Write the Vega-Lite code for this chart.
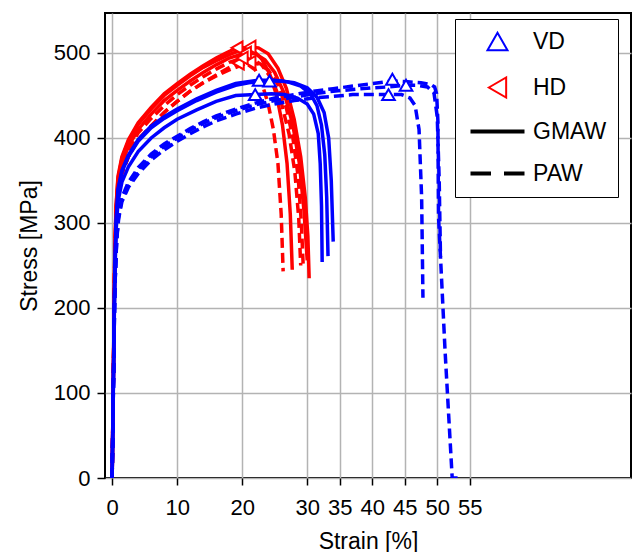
{
  "$schema": "https://vega.github.io/schema/vega-lite/v6.json",
  "width": 526,
  "height": 465,
  "autosize": {"type": "none"},
  "padding": {"left": 105, "top": 13, "right": 2, "bottom": 74},
  "datasets": {
    "curves": [
      {"c":"B1","d":"VD","p":"GMAW","x":0,"y":0},{"c":"B1","d":"VD","p":"GMAW","x":0.2,"y":120},{"c":"B1","d":"VD","p":"GMAW","x":0.4,"y":240},{"c":"B1","d":"VD","p":"GMAW","x":0.6,"y":300},{"c":"B1","d":"VD","p":"GMAW","x":0.9,"y":340},{"c":"B1","d":"VD","p":"GMAW","x":1.5,"y":362},{"c":"B1","d":"VD","p":"GMAW","x":2.5,"y":380},{"c":"B1","d":"VD","p":"GMAW","x":4,"y":398},{"c":"B1","d":"VD","p":"GMAW","x":6,"y":414},{"c":"B1","d":"VD","p":"GMAW","x":8,"y":425},{"c":"B1","d":"VD","p":"GMAW","x":10,"y":434},{"c":"B1","d":"VD","p":"GMAW","x":13,"y":446},{"c":"B1","d":"VD","p":"GMAW","x":16,"y":456},{"c":"B1","d":"VD","p":"GMAW","x":19,"y":464},{"c":"B1","d":"VD","p":"GMAW","x":22.6,"y":468},{"c":"B1","d":"VD","p":"GMAW","x":25,"y":468},{"c":"B1","d":"VD","p":"GMAW","x":27,"y":466},{"c":"B1","d":"VD","p":"GMAW","x":29,"y":461},{"c":"B1","d":"VD","p":"GMAW","x":30.5,"y":452},{"c":"B1","d":"VD","p":"GMAW","x":31.5,"y":438},{"c":"B1","d":"VD","p":"GMAW","x":32.2,"y":415},{"c":"B1","d":"VD","p":"GMAW","x":32.7,"y":380},{"c":"B1","d":"VD","p":"GMAW","x":33.0,"y":330},{"c":"B1","d":"VD","p":"GMAW","x":33.2,"y":261},
      {"c":"B2","d":"VD","p":"GMAW","x":0,"y":0},{"c":"B2","d":"VD","p":"GMAW","x":0.2,"y":120},{"c":"B2","d":"VD","p":"GMAW","x":0.4,"y":240},{"c":"B2","d":"VD","p":"GMAW","x":0.6,"y":300},{"c":"B2","d":"VD","p":"GMAW","x":0.9,"y":338},{"c":"B2","d":"VD","p":"GMAW","x":1.5,"y":360},{"c":"B2","d":"VD","p":"GMAW","x":2.5,"y":378},{"c":"B2","d":"VD","p":"GMAW","x":4,"y":396},{"c":"B2","d":"VD","p":"GMAW","x":6,"y":412},{"c":"B2","d":"VD","p":"GMAW","x":8,"y":423},{"c":"B2","d":"VD","p":"GMAW","x":10,"y":432},{"c":"B2","d":"VD","p":"GMAW","x":13,"y":444},{"c":"B2","d":"VD","p":"GMAW","x":16,"y":454},{"c":"B2","d":"VD","p":"GMAW","x":19,"y":462},{"c":"B2","d":"VD","p":"GMAW","x":21,"y":465},{"c":"B2","d":"VD","p":"GMAW","x":24.2,"y":467},{"c":"B2","d":"VD","p":"GMAW","x":26,"y":467},{"c":"B2","d":"VD","p":"GMAW","x":28,"y":465},{"c":"B2","d":"VD","p":"GMAW","x":30,"y":459},{"c":"B2","d":"VD","p":"GMAW","x":31.5,"y":448},{"c":"B2","d":"VD","p":"GMAW","x":32.6,"y":430},{"c":"B2","d":"VD","p":"GMAW","x":33.3,"y":400},{"c":"B2","d":"VD","p":"GMAW","x":33.7,"y":350},{"c":"B2","d":"VD","p":"GMAW","x":34.0,"y":278},
      {"c":"B3","d":"VD","p":"GMAW","x":0,"y":0},{"c":"B3","d":"VD","p":"GMAW","x":0.2,"y":115},{"c":"B3","d":"VD","p":"GMAW","x":0.4,"y":230},{"c":"B3","d":"VD","p":"GMAW","x":0.6,"y":290},{"c":"B3","d":"VD","p":"GMAW","x":0.9,"y":325},{"c":"B3","d":"VD","p":"GMAW","x":1.5,"y":348},{"c":"B3","d":"VD","p":"GMAW","x":2.5,"y":366},{"c":"B3","d":"VD","p":"GMAW","x":4,"y":384},{"c":"B3","d":"VD","p":"GMAW","x":6,"y":400},{"c":"B3","d":"VD","p":"GMAW","x":8,"y":412},{"c":"B3","d":"VD","p":"GMAW","x":10,"y":422},{"c":"B3","d":"VD","p":"GMAW","x":13,"y":433},{"c":"B3","d":"VD","p":"GMAW","x":16,"y":443},{"c":"B3","d":"VD","p":"GMAW","x":19,"y":450},{"c":"B3","d":"VD","p":"GMAW","x":22,"y":451},{"c":"B3","d":"VD","p":"GMAW","x":24.5,"y":452},{"c":"B3","d":"VD","p":"GMAW","x":26.5,"y":451},{"c":"B3","d":"VD","p":"GMAW","x":28.5,"y":447},{"c":"B3","d":"VD","p":"GMAW","x":30,"y":440},{"c":"B3","d":"VD","p":"GMAW","x":31,"y":428},{"c":"B3","d":"VD","p":"GMAW","x":31.7,"y":405},{"c":"B3","d":"VD","p":"GMAW","x":32.0,"y":370},{"c":"B3","d":"VD","p":"GMAW","x":32.2,"y":320},{"c":"B3","d":"VD","p":"GMAW","x":32.3,"y":254},
      {"c":"D1","d":"VD","p":"PAW","x":0,"y":0},{"c":"D1","d":"VD","p":"PAW","x":0.2,"y":110},{"c":"D1","d":"VD","p":"PAW","x":0.4,"y":220},{"c":"D1","d":"VD","p":"PAW","x":0.7,"y":280},{"c":"D1","d":"VD","p":"PAW","x":1,"y":305},{"c":"D1","d":"VD","p":"PAW","x":1.5,"y":325},{"c":"D1","d":"VD","p":"PAW","x":2.5,"y":342},{"c":"D1","d":"VD","p":"PAW","x":4,"y":358},{"c":"D1","d":"VD","p":"PAW","x":6,"y":374},{"c":"D1","d":"VD","p":"PAW","x":8,"y":386},{"c":"D1","d":"VD","p":"PAW","x":10,"y":396},{"c":"D1","d":"VD","p":"PAW","x":12,"y":405},{"c":"D1","d":"VD","p":"PAW","x":14,"y":413},{"c":"D1","d":"VD","p":"PAW","x":16,"y":420},{"c":"D1","d":"VD","p":"PAW","x":19,"y":428},{"c":"D1","d":"VD","p":"PAW","x":22,"y":435},{"c":"D1","d":"VD","p":"PAW","x":25,"y":440},{"c":"D1","d":"VD","p":"PAW","x":28,"y":444},{"c":"D1","d":"VD","p":"PAW","x":31,"y":447},{"c":"D1","d":"VD","p":"PAW","x":34,"y":449},{"c":"D1","d":"VD","p":"PAW","x":37,"y":451},{"c":"D1","d":"VD","p":"PAW","x":40,"y":451},{"c":"D1","d":"VD","p":"PAW","x":42.5,"y":451},{"c":"D1","d":"VD","p":"PAW","x":44.5,"y":451},{"c":"D1","d":"VD","p":"PAW","x":45.8,"y":447},{"c":"D1","d":"VD","p":"PAW","x":46.6,"y":438},{"c":"D1","d":"VD","p":"PAW","x":47.2,"y":410},{"c":"D1","d":"VD","p":"PAW","x":47.6,"y":330},{"c":"D1","d":"VD","p":"PAW","x":47.8,"y":212},
      {"c":"D2","d":"VD","p":"PAW","x":0,"y":0},{"c":"D2","d":"VD","p":"PAW","x":0.2,"y":110},{"c":"D2","d":"VD","p":"PAW","x":0.4,"y":220},{"c":"D2","d":"VD","p":"PAW","x":0.7,"y":282},{"c":"D2","d":"VD","p":"PAW","x":1,"y":308},{"c":"D2","d":"VD","p":"PAW","x":1.5,"y":328},{"c":"D2","d":"VD","p":"PAW","x":2.5,"y":345},{"c":"D2","d":"VD","p":"PAW","x":4,"y":362},{"c":"D2","d":"VD","p":"PAW","x":6,"y":378},{"c":"D2","d":"VD","p":"PAW","x":8,"y":390},{"c":"D2","d":"VD","p":"PAW","x":10,"y":400},{"c":"D2","d":"VD","p":"PAW","x":12,"y":409},{"c":"D2","d":"VD","p":"PAW","x":14,"y":417},{"c":"D2","d":"VD","p":"PAW","x":16,"y":424},{"c":"D2","d":"VD","p":"PAW","x":19,"y":432},{"c":"D2","d":"VD","p":"PAW","x":22,"y":439},{"c":"D2","d":"VD","p":"PAW","x":25,"y":444},{"c":"D2","d":"VD","p":"PAW","x":28,"y":448},{"c":"D2","d":"VD","p":"PAW","x":31,"y":452},{"c":"D2","d":"VD","p":"PAW","x":34,"y":455},{"c":"D2","d":"VD","p":"PAW","x":37,"y":457},{"c":"D2","d":"VD","p":"PAW","x":40,"y":459},{"c":"D2","d":"VD","p":"PAW","x":42.5,"y":460},{"c":"D2","d":"VD","p":"PAW","x":45.2,"y":462},{"c":"D2","d":"VD","p":"PAW","x":47,"y":462},{"c":"D2","d":"VD","p":"PAW","x":48.5,"y":460},{"c":"D2","d":"VD","p":"PAW","x":49.5,"y":453},{"c":"D2","d":"VD","p":"PAW","x":50.0,"y":425},{"c":"D2","d":"VD","p":"PAW","x":50.3,"y":350},{"c":"D2","d":"VD","p":"PAW","x":50.5,"y":260},
      {"c":"D3","d":"VD","p":"PAW","x":0,"y":0},{"c":"D3","d":"VD","p":"PAW","x":0.2,"y":110},{"c":"D3","d":"VD","p":"PAW","x":0.4,"y":220},{"c":"D3","d":"VD","p":"PAW","x":0.7,"y":282},{"c":"D3","d":"VD","p":"PAW","x":1,"y":310},{"c":"D3","d":"VD","p":"PAW","x":1.5,"y":330},{"c":"D3","d":"VD","p":"PAW","x":2.5,"y":348},{"c":"D3","d":"VD","p":"PAW","x":4,"y":365},{"c":"D3","d":"VD","p":"PAW","x":6,"y":381},{"c":"D3","d":"VD","p":"PAW","x":8,"y":393},{"c":"D3","d":"VD","p":"PAW","x":10,"y":402},{"c":"D3","d":"VD","p":"PAW","x":12,"y":411},{"c":"D3","d":"VD","p":"PAW","x":14,"y":419},{"c":"D3","d":"VD","p":"PAW","x":16,"y":426},{"c":"D3","d":"VD","p":"PAW","x":19,"y":434},{"c":"D3","d":"VD","p":"PAW","x":22,"y":441},{"c":"D3","d":"VD","p":"PAW","x":25,"y":447},{"c":"D3","d":"VD","p":"PAW","x":28,"y":451},{"c":"D3","d":"VD","p":"PAW","x":31,"y":455},{"c":"D3","d":"VD","p":"PAW","x":34,"y":458},{"c":"D3","d":"VD","p":"PAW","x":37,"y":461},{"c":"D3","d":"VD","p":"PAW","x":40,"y":464},{"c":"D3","d":"VD","p":"PAW","x":43.1,"y":467},{"c":"D3","d":"VD","p":"PAW","x":45.5,"y":466},{"c":"D3","d":"VD","p":"PAW","x":47.5,"y":465},{"c":"D3","d":"VD","p":"PAW","x":49,"y":463},{"c":"D3","d":"VD","p":"PAW","x":49.6,"y":460},{"c":"D3","d":"VD","p":"PAW","x":49.9,"y":452},{"c":"D3","d":"VD","p":"PAW","x":50.1,"y":420},{"c":"D3","d":"VD","p":"PAW","x":50.2,"y":307},{"c":"D3","d":"VD","p":"PAW","x":51.2,"y":150},{"c":"D3","d":"VD","p":"PAW","x":52.3,"y":0},{"c":"D3","d":"VD","p":"PAW","x":53.6,"y":0},
      {"c":"R1","d":"HD","p":"GMAW","x":0,"y":0},{"c":"R1","d":"HD","p":"GMAW","x":0.2,"y":130},{"c":"R1","d":"HD","p":"GMAW","x":0.4,"y":260},{"c":"R1","d":"HD","p":"GMAW","x":0.6,"y":320},{"c":"R1","d":"HD","p":"GMAW","x":0.9,"y":355},{"c":"R1","d":"HD","p":"GMAW","x":1.5,"y":378},{"c":"R1","d":"HD","p":"GMAW","x":2.5,"y":398},{"c":"R1","d":"HD","p":"GMAW","x":4,"y":418},{"c":"R1","d":"HD","p":"GMAW","x":6,"y":436},{"c":"R1","d":"HD","p":"GMAW","x":8,"y":452},{"c":"R1","d":"HD","p":"GMAW","x":10,"y":464},{"c":"R1","d":"HD","p":"GMAW","x":12,"y":475},{"c":"R1","d":"HD","p":"GMAW","x":14,"y":485},{"c":"R1","d":"HD","p":"GMAW","x":16,"y":494},{"c":"R1","d":"HD","p":"GMAW","x":17.5,"y":500},{"c":"R1","d":"HD","p":"GMAW","x":19.2,"y":506},{"c":"R1","d":"HD","p":"GMAW","x":20.5,"y":506},{"c":"R1","d":"HD","p":"GMAW","x":21.8,"y":502},{"c":"R1","d":"HD","p":"GMAW","x":23,"y":493},{"c":"R1","d":"HD","p":"GMAW","x":24.2,"y":476},{"c":"R1","d":"HD","p":"GMAW","x":25.3,"y":450},{"c":"R1","d":"HD","p":"GMAW","x":26.2,"y":415},{"c":"R1","d":"HD","p":"GMAW","x":26.9,"y":370},{"c":"R1","d":"HD","p":"GMAW","x":27.4,"y":310},{"c":"R1","d":"HD","p":"GMAW","x":27.7,"y":245},
      {"c":"R2","d":"HD","p":"GMAW","x":0,"y":0},{"c":"R2","d":"HD","p":"GMAW","x":0.2,"y":130},{"c":"R2","d":"HD","p":"GMAW","x":0.4,"y":260},{"c":"R2","d":"HD","p":"GMAW","x":0.6,"y":318},{"c":"R2","d":"HD","p":"GMAW","x":0.9,"y":352},{"c":"R2","d":"HD","p":"GMAW","x":1.5,"y":376},{"c":"R2","d":"HD","p":"GMAW","x":2.5,"y":396},{"c":"R2","d":"HD","p":"GMAW","x":4,"y":416},{"c":"R2","d":"HD","p":"GMAW","x":6,"y":434},{"c":"R2","d":"HD","p":"GMAW","x":8,"y":450},{"c":"R2","d":"HD","p":"GMAW","x":10,"y":462},{"c":"R2","d":"HD","p":"GMAW","x":12,"y":473},{"c":"R2","d":"HD","p":"GMAW","x":14,"y":483},{"c":"R2","d":"HD","p":"GMAW","x":16,"y":491},{"c":"R2","d":"HD","p":"GMAW","x":18,"y":498},{"c":"R2","d":"HD","p":"GMAW","x":19.7,"y":503},{"c":"R2","d":"HD","p":"GMAW","x":21.2,"y":507},{"c":"R2","d":"HD","p":"GMAW","x":22.5,"y":506},{"c":"R2","d":"HD","p":"GMAW","x":24,"y":499},{"c":"R2","d":"HD","p":"GMAW","x":25.5,"y":482},{"c":"R2","d":"HD","p":"GMAW","x":26.8,"y":458},{"c":"R2","d":"HD","p":"GMAW","x":28,"y":422},{"c":"R2","d":"HD","p":"GMAW","x":29,"y":378},{"c":"R2","d":"HD","p":"GMAW","x":29.7,"y":330},{"c":"R2","d":"HD","p":"GMAW","x":30.1,"y":285},{"c":"R2","d":"HD","p":"GMAW","x":30.3,"y":235},
      {"c":"R3","d":"HD","p":"GMAW","x":0,"y":0},{"c":"R3","d":"HD","p":"GMAW","x":0.2,"y":125},{"c":"R3","d":"HD","p":"GMAW","x":0.4,"y":250},{"c":"R3","d":"HD","p":"GMAW","x":0.6,"y":312},{"c":"R3","d":"HD","p":"GMAW","x":0.9,"y":346},{"c":"R3","d":"HD","p":"GMAW","x":1.5,"y":370},{"c":"R3","d":"HD","p":"GMAW","x":2.5,"y":390},{"c":"R3","d":"HD","p":"GMAW","x":4,"y":410},{"c":"R3","d":"HD","p":"GMAW","x":6,"y":428},{"c":"R3","d":"HD","p":"GMAW","x":8,"y":444},{"c":"R3","d":"HD","p":"GMAW","x":10,"y":456},{"c":"R3","d":"HD","p":"GMAW","x":12,"y":467},{"c":"R3","d":"HD","p":"GMAW","x":14,"y":477},{"c":"R3","d":"HD","p":"GMAW","x":16,"y":486},{"c":"R3","d":"HD","p":"GMAW","x":18,"y":494},{"c":"R3","d":"HD","p":"GMAW","x":20.5,"y":500},{"c":"R3","d":"HD","p":"GMAW","x":22,"y":499},{"c":"R3","d":"HD","p":"GMAW","x":23.5,"y":492},{"c":"R3","d":"HD","p":"GMAW","x":25,"y":477},{"c":"R3","d":"HD","p":"GMAW","x":26.5,"y":452},{"c":"R3","d":"HD","p":"GMAW","x":27.8,"y":415},{"c":"R3","d":"HD","p":"GMAW","x":28.8,"y":370},{"c":"R3","d":"HD","p":"GMAW","x":29.5,"y":315},{"c":"R3","d":"HD","p":"GMAW","x":30.0,"y":256},
      {"c":"R4","d":"HD","p":"PAW","x":0,"y":0},{"c":"R4","d":"HD","p":"PAW","x":0.2,"y":125},{"c":"R4","d":"HD","p":"PAW","x":0.4,"y":250},{"c":"R4","d":"HD","p":"PAW","x":0.6,"y":305},{"c":"R4","d":"HD","p":"PAW","x":0.9,"y":338},{"c":"R4","d":"HD","p":"PAW","x":1.5,"y":358},{"c":"R4","d":"HD","p":"PAW","x":2.5,"y":378},{"c":"R4","d":"HD","p":"PAW","x":4,"y":398},{"c":"R4","d":"HD","p":"PAW","x":6,"y":414},{"c":"R4","d":"HD","p":"PAW","x":8,"y":430},{"c":"R4","d":"HD","p":"PAW","x":10,"y":443},{"c":"R4","d":"HD","p":"PAW","x":12,"y":455},{"c":"R4","d":"HD","p":"PAW","x":14,"y":465},{"c":"R4","d":"HD","p":"PAW","x":16,"y":474},{"c":"R4","d":"HD","p":"PAW","x":17.8,"y":482},{"c":"R4","d":"HD","p":"PAW","x":19.4,"y":488},{"c":"R4","d":"HD","p":"PAW","x":20.8,"y":487},{"c":"R4","d":"HD","p":"PAW","x":22,"y":480},{"c":"R4","d":"HD","p":"PAW","x":23,"y":465},{"c":"R4","d":"HD","p":"PAW","x":24,"y":440},{"c":"R4","d":"HD","p":"PAW","x":24.8,"y":410},{"c":"R4","d":"HD","p":"PAW","x":25.5,"y":370},{"c":"R4","d":"HD","p":"PAW","x":26.0,"y":310},{"c":"R4","d":"HD","p":"PAW","x":26.3,"y":243},
      {"c":"R5","d":"HD","p":"PAW","x":0,"y":0},{"c":"R5","d":"HD","p":"PAW","x":0.2,"y":125},{"c":"R5","d":"HD","p":"PAW","x":0.4,"y":250},{"c":"R5","d":"HD","p":"PAW","x":0.6,"y":305},{"c":"R5","d":"HD","p":"PAW","x":0.9,"y":338},{"c":"R5","d":"HD","p":"PAW","x":1.5,"y":358},{"c":"R5","d":"HD","p":"PAW","x":2.5,"y":378},{"c":"R5","d":"HD","p":"PAW","x":4,"y":398},{"c":"R5","d":"HD","p":"PAW","x":6,"y":414},{"c":"R5","d":"HD","p":"PAW","x":8,"y":430},{"c":"R5","d":"HD","p":"PAW","x":10,"y":443},{"c":"R5","d":"HD","p":"PAW","x":12,"y":455},{"c":"R5","d":"HD","p":"PAW","x":14,"y":465},{"c":"R5","d":"HD","p":"PAW","x":16,"y":473},{"c":"R5","d":"HD","p":"PAW","x":18,"y":480},{"c":"R5","d":"HD","p":"PAW","x":19.7,"y":485},{"c":"R5","d":"HD","p":"PAW","x":21.2,"y":489},{"c":"R5","d":"HD","p":"PAW","x":22.5,"y":487},{"c":"R5","d":"HD","p":"PAW","x":24,"y":480},{"c":"R5","d":"HD","p":"PAW","x":25.5,"y":463},{"c":"R5","d":"HD","p":"PAW","x":26.8,"y":435},{"c":"R5","d":"HD","p":"PAW","x":27.8,"y":400},{"c":"R5","d":"HD","p":"PAW","x":28.6,"y":355},{"c":"R5","d":"HD","p":"PAW","x":29.1,"y":300},{"c":"R5","d":"HD","p":"PAW","x":29.4,"y":247},
      {"c":"R6","d":"HD","p":"PAW","x":0,"y":0},{"c":"R6","d":"HD","p":"PAW","x":0.2,"y":128},{"c":"R6","d":"HD","p":"PAW","x":0.4,"y":255},{"c":"R6","d":"HD","p":"PAW","x":0.6,"y":312},{"c":"R6","d":"HD","p":"PAW","x":0.9,"y":345},{"c":"R6","d":"HD","p":"PAW","x":1.5,"y":366},{"c":"R6","d":"HD","p":"PAW","x":2.5,"y":386},{"c":"R6","d":"HD","p":"PAW","x":4,"y":406},{"c":"R6","d":"HD","p":"PAW","x":6,"y":423},{"c":"R6","d":"HD","p":"PAW","x":8,"y":438},{"c":"R6","d":"HD","p":"PAW","x":10,"y":451},{"c":"R6","d":"HD","p":"PAW","x":12,"y":462},{"c":"R6","d":"HD","p":"PAW","x":14,"y":472},{"c":"R6","d":"HD","p":"PAW","x":16,"y":481},{"c":"R6","d":"HD","p":"PAW","x":18,"y":489},{"c":"R6","d":"HD","p":"PAW","x":20.0,"y":494},{"c":"R6","d":"HD","p":"PAW","x":21.5,"y":493},{"c":"R6","d":"HD","p":"PAW","x":23,"y":486},{"c":"R6","d":"HD","p":"PAW","x":24.5,"y":470},{"c":"R6","d":"HD","p":"PAW","x":26,"y":442},{"c":"R6","d":"HD","p":"PAW","x":27.2,"y":405},{"c":"R6","d":"HD","p":"PAW","x":28.1,"y":360},{"c":"R6","d":"HD","p":"PAW","x":28.7,"y":305},{"c":"R6","d":"HD","p":"PAW","x":29.0,"y":250}
    ],
    "peaks": [
      {"d":"HD","x":19.2,"y":506},{"d":"HD","x":21.2,"y":507},{"d":"HD","x":20.5,"y":500},{"d":"HD","x":19.4,"y":488},{"d":"HD","x":21.2,"y":489},{"d":"HD","x":20.0,"y":494},
      {"d":"VD","x":22.6,"y":468},{"d":"VD","x":24.2,"y":467},{"d":"VD","x":22.0,"y":451},{"d":"VD","x":43.1,"y":469},{"d":"VD","x":45.2,"y":462},{"d":"VD","x":42.5,"y":451}
    ]
  },
  "encoding": {
    "x": {"field": "x", "type": "quantitative", "scale": {"domain": [-1.1, 79.8], "nice": false, "zero": false},
      "axis": {"title": "Strain [%]", "values": [0, 10, 20, 30, 35, 40, 45, 50, 55], "labelPadding": 12, "titlePadding": 12}},
    "y": {"field": "y", "type": "quantitative", "scale": {"domain": [0, 547], "nice": false},
      "axis": {"title": "Stress [MPa]", "values": [0, 100, 200, 300, 400, 500], "tickSize": 8, "labelPadding": 7, "titlePadding": 12}}
  },
  "layer": [
    {"data": {"name": "curves"}, "transform": [{"filter": "datum.d === 'HD' && datum.p === 'GMAW'"}],
      "mark": {"type": "line", "stroke": "#ff0000", "strokeWidth": 3.5, "clip": true},
      "encoding": {"detail": {"field": "c"}}},
    {"data": {"name": "curves"}, "transform": [{"filter": "datum.d === 'HD' && datum.p === 'PAW'"}],
      "mark": {"type": "line", "stroke": "#ff0000", "strokeWidth": 3.5, "strokeDash": [10, 5], "clip": true},
      "encoding": {"detail": {"field": "c"}}},
    {"data": {"name": "curves"}, "transform": [{"filter": "datum.d === 'VD' && datum.p === 'GMAW'"}],
      "mark": {"type": "line", "stroke": "#0000ff", "strokeWidth": 3.5, "clip": true},
      "encoding": {"detail": {"field": "c"}}},
    {"data": {"name": "curves"}, "transform": [{"filter": "datum.d === 'VD' && datum.p === 'PAW'"}],
      "mark": {"type": "line", "stroke": "#0000ff", "strokeWidth": 3.5, "strokeDash": [10, 5], "clip": true},
      "encoding": {"detail": {"field": "c"}}},
    {"data": {"name": "peaks"},
      "mark": {"type": "point", "filled": true, "fill": "white", "size": 160, "opacity": 1},
      "encoding": {
        "shape": {"field": "d", "type": "nominal",
          "scale": {"domain": ["VD", "HD", "GMAW", "PAW"], "range": ["triangle-up", "triangle-left", "M-2.6,-0.1H2.6V0.1H-2.6Z", "M-2.6,-0.1H-0.75V0.1H-2.6ZM0.75,-0.1H2.6V0.1H0.75Z"]},
          "legend": {"title": null, "orient": "none", "legendX": 350, "legendY": 6, "strokeColor": "black", "fillColor": "white", "padding": 11, "symbolSize": 400, "symbolOffset": 20, "labelOffset": 24, "labelFontSize": 23, "labelColor": "black", "rowPadding": 18, "cornerRadius": 0}},
        "stroke": {"field": "d", "type": "nominal",
          "scale": {"domain": ["VD", "HD", "GMAW", "PAW"], "range": ["#0000ff", "#ff0000", "#000000", "#000000"]}},
        "strokeWidth": {"field": "d", "type": "nominal",
          "scale": {"domain": ["VD", "HD", "GMAW", "PAW"], "range": [2, 2, 3, 3]}}
      }}
  ],
  "config": {
    "font": "Liberation Sans",
    "view": {"stroke": "black", "strokeWidth": 2},
    "axis": {"grid": true, "gridColor": "#b3b3b3", "gridWidth": 1.5, "domain": false, "tickColor": "black", "tickWidth": 1.5, "tickSize": 7,
      "labelFontSize": 22, "labelColor": "black", "labelFont": "Liberation Sans", "titleFont": "Liberation Sans", "titleFontSize": 23, "titleFontWeight": "normal", "titleColor": "black"}
  }
}
